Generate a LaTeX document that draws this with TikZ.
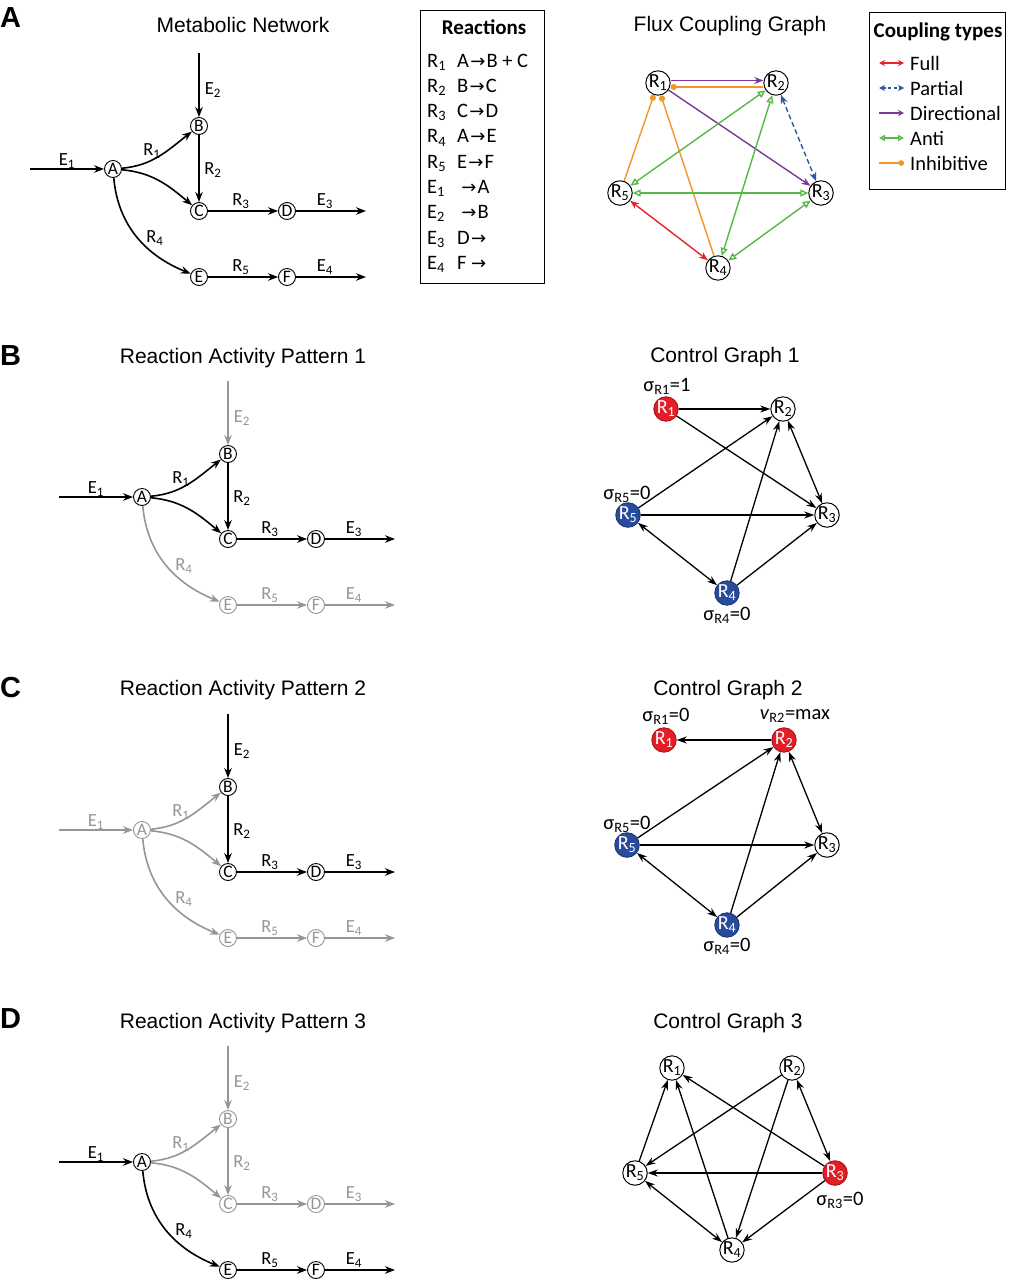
\documentclass[tikz,border=0pt]{standalone}
\usepackage{fontspec}
\setmainfont{Carlito}
\newfontfamily\arialf{Liberation Sans}
\newfontfamily\symf{DejaVu Sans}
\usetikzlibrary{arrows.meta}
\definecolor{grayln}{RGB}{150,150,150}
\definecolor{nred}{RGB}{228,30,38}
\definecolor{nblue}{RGB}{40,75,155}
\definecolor{cfull}{RGB}{230,35,45}
\definecolor{cpart}{RGB}{45,85,170}
\definecolor{cdir}{RGB}{125,55,150}
\definecolor{canti}{RGB}{85,185,70}
\definecolor{cinh}{RGB}{242,150,40}
\newcommand\metfnt{\fontsize{17.5}{17.5}\selectfont}
\newcommand\labfnt{\fontsize{18.5}{18.5}\selectfont}
\newcommand\rfnt{\fontsize{20}{20}\selectfont}
\newcommand\titfnt{\arialf\fontsize{21}{21}\selectfont}
\newcommand\letfnt{\arialf\bfseries\fontsize{29}{29}\selectfont}
\newcommand\txtfnt{\fontsize{20.5}{20.5}\selectfont}
\newcommand\hdfnt{\bfseries\fontsize{21}{21}\selectfont}
\newcommand\rarr{\hspace{1.2pt}{\symf\fontsize{18}{18}\selectfont →}\hspace{1.2pt}}
\tikzset{
  met/.style={circle, draw, fill=white, line width=0.9pt, minimum size=17pt, inner sep=0pt, font=\metfnt},
  lab/.style={inner sep=0pt, font=\labfnt},
  flow/.style={line width=1.6pt, -{Stealth[length=10pt,width=7.5pt]}},
  blk/.style={draw=black, text=black},
  gry/.style={draw=grayln, text=grayln},
  sE1/.style={blk}, sA/.style={blk}, sE2/.style={blk}, sB/.style={blk},
  sR1/.style={blk}, sR2/.style={blk}, sCD/.style={blk}, sEF/.style={blk},
  rnode/.style={circle, draw, line width=1pt, fill=white, minimum size=24pt, inner sep=0pt, font=\rfnt},
  rred/.style={rnode, fill=nred, draw=nred!75!black, text=white},
  rblu/.style={rnode, fill=nblue, draw=nblue!75!black, text=white},
  cg/.style={line width=1.3pt, -{Stealth[length=10pt,width=7pt]}},
  cgb/.style={line width=1.3pt, {Stealth[length=10pt,width=7pt]}-{Stealth[length=10pt,width=7pt]}},
  fl/.style={line width=1.4pt},
  kfull/.style={fl, cfull, {Stealth[length=9pt,width=7pt]}-{Stealth[length=9pt,width=7pt]}},
  kpart/.style={fl, cpart, dash pattern=on 5pt off 3pt, {Stealth[length=9pt,width=7pt]}-{Stealth[length=9pt,width=7pt]}},
  kdir/.style={fl, cdir, -{Stealth[length=9pt,width=7pt]}},
  kanti/.style={fl, canti, {Triangle[open,length=8pt,width=7pt]}-{Triangle[open,length=8pt,width=7pt]}},
  kinh/.style={fl, cinh, -{Circle[length=6pt]}},
  siglab/.style={inner sep=0pt, font=\txtfnt},
  ttl/.style={inner sep=0pt, font=\titfnt, anchor=base},
  plet/.style={inner sep=0pt, font=\letfnt, anchor=base west},
  rxt/.style={inner sep=0pt, font=\txtfnt, anchor=base west},
  bx/.style={draw, line width=0.9pt, inner sep=0pt}
}
\newcommand\metanet[1]{%
  \node[met,sA] (#1A) at (113,-169) {A};
  \node[met,sB] (#1B) at (199,-126) {B};
  \node[met,sCD] (#1C) at (199,-211) {C};
  \node[met,sCD] (#1D) at (287,-211) {D};
  \node[met,sEF] (#1E) at (199,-277) {E};
  \node[met,sEF] (#1F) at (287,-277) {F};
  \coordinate (#1e1) at (30,-169);
  \coordinate (#1e2) at (199,-53);
  \coordinate (#1e3) at (366,-211);
  \coordinate (#1e4) at (366,-277);
  \draw[flow,sE1] (#1e1) -- (#1A);
  \draw[flow,sE2] (#1e2) -- (#1B);
  \draw[flow,sR1] (#1A) to[out=5,in=218] (#1B);
  \draw[flow,sR1] (#1A) to[out=-5,in=140] (#1C);
  \draw[flow,sR2] (#1B) -- (#1C);
  \draw[flow,sCD] (#1C) -- (#1D);
  \draw[flow,sCD] (#1D) -- (#1e3);
  \draw[flow,sEF] (#1A) to[out=-85,in=158] (#1E);
  \draw[flow,sEF] (#1E) -- (#1F);
  \draw[flow,sEF] (#1F) -- (#1e4);
  \node[lab,sE1,draw=none] (#1lE1) at (67,-161) {E\textsubscript{1}};
  \node[lab,sE2,draw=none] (#1lE2) at (213,-90) {E\textsubscript{2}};
  \node[lab,sR1,draw=none] (#1lR1) at (152,-151) {R\textsubscript{1}};
  \node[lab,sR2,draw=none] (#1lR2) at (213,-170) {R\textsubscript{2}};
  \node[lab,sCD,draw=none] (#1lR3) at (241,-201) {R\textsubscript{3}};
  \node[lab,sCD,draw=none] (#1lE3) at (325,-201) {E\textsubscript{3}};
  \node[lab,sEF,draw=none] (#1lR4) at (155,-238) {R\textsubscript{4}};
  \node[lab,sEF,draw=none] (#1lR5) at (241,-267) {R\textsubscript{5}};
  \node[lab,sEF,draw=none] (#1lE4) at (325,-267) {E\textsubscript{4}};
}
\begin{document}
\begin{tikzpicture}[x=1pt,y=1pt]
\useasboundingbox[fill=white] (0,0) rectangle (1014,-1280);

% ---------------- Panel A ----------------
\node[plet] (pA) at (0,-27) {A};
\node[ttl] (tA1) at (243,-32) {Metabolic Network};
\node[ttl] (tA2) at (730,-31) {Flux Coupling Graph};
\metanet{a}

% Reactions box
\node[bx, minimum width=124pt, minimum height=273pt] (rxbox) at (482.5,-146.5) {};
\node[inner sep=0pt, font=\hdfnt, anchor=base] (rxt) at (484,-34) {Reactions};
\node[rxt] (rx1l) at (427,-67) {R\textsubscript{1}};
\node[rxt] (rx1r) at (457,-67) {A\rarr B + C};
\node[rxt] (rx2l) at (427,-92.3) {R\textsubscript{2}};
\node[rxt] (rx2r) at (457,-92.3) {B\rarr C};
\node[rxt] (rx3l) at (427,-117.6) {R\textsubscript{3}};
\node[rxt] (rx3r) at (457,-117.6) {C\rarr D};
\node[rxt] (rx4l) at (427,-142.9) {R\textsubscript{4}};
\node[rxt] (rx4r) at (457,-142.9) {A\rarr E};
\node[rxt] (rx5l) at (427,-168.2) {R\textsubscript{5}};
\node[rxt] (rx5r) at (457,-168.2) {E\rarr F};
\node[rxt] (rx6l) at (427,-193.5) {E\textsubscript{1}};
\node[rxt] (rx6r) at (460,-193.5) {\rarr A};
\node[rxt] (rx7l) at (427,-218.8) {E\textsubscript{2}};
\node[rxt] (rx7r) at (460,-218.8) {\rarr B};
\node[rxt] (rx8l) at (427,-244.1) {E\textsubscript{3}};
\node[rxt] (rx8r) at (457,-244.1) {D\rarr};
\node[rxt] (rx9l) at (427,-269.4) {E\textsubscript{4}};
\node[rxt] (rx9r) at (457,-269.4) {F\,\rarr};

% Flux coupling graph
\node[rnode] (f1) at (658,-83) {R\textsubscript{1}};
\node[rnode] (f2) at (776,-83) {R\textsubscript{2}};
\node[rnode] (f3) at (821,-193) {R\textsubscript{3}};
\node[rnode] (f5) at (620,-193) {R\textsubscript{5}};
\node[rnode] (f4) at (718,-268) {R\textsubscript{4}};
\draw[kinh] (f5) -- (f1);
\draw[kinh] (f4) -- ([xshift=3pt]f1.south);
\draw[kdir] ([yshift=2.5pt]f1.east) -- ([yshift=2.5pt]f2.west);
\draw[kinh] ([yshift=-4pt]f2.west) -- ([yshift=-4pt]f1.east);
\draw[kdir] (f1) -- (f3);
\draw[kpart] (f2) -- (f3);
\draw[kanti] (f2) -- (f5);
\draw[kanti] (f2) -- (f4);
\draw[kanti] (f5) -- (f3);
\draw[kanti] (f4) -- (f3);
\draw[kfull] (f5) -- (f4);

% Legend
\node[bx, minimum width=136pt, minimum height=177pt] (lgbox) at (937.5,-100.5) {};
\node[inner sep=0pt, font=\hdfnt, anchor=base] (lgt) at (938,-37) {Coupling types};
\coordinate (lg1a) at (879,-63); \coordinate (lg1b) at (904,-63);
\coordinate (lg2a) at (879,-88); \coordinate (lg2b) at (904,-88);
\coordinate (lg3a) at (879,-113); \coordinate (lg3b) at (904,-113);
\coordinate (lg4a) at (879,-138); \coordinate (lg4b) at (904,-138);
\coordinate (lg5a) at (879,-163); \coordinate (lg5b) at (904,-163);
\draw[fl, cfull, {Stealth[length=6pt,width=6pt]}-{Stealth[length=6pt,width=6pt]}] (lg1a) -- (lg1b);
\draw[fl, cpart, dash pattern=on 3pt off 2.5pt, {Stealth[length=6pt,width=6pt]}-{Stealth[length=6pt,width=6pt]}] (lg2a) -- (lg2b);
\draw[fl, cdir, -{Stealth[length=6pt,width=6pt]}] (lg3a) -- (lg3b);
\draw[fl, canti, {Triangle[open,length=6pt,width=6pt]}-{Triangle[open,length=6pt,width=6pt]}] (lg4a) -- (lg4b);
\draw[fl, cinh, -{Circle[length=5.5pt]}] (lg5a) -- (lg5b);
\node[rxt] (lgl1) at (910,-70) {Full};
\node[rxt] (lgl2) at (910,-95) {Partial};
\node[rxt] (lgl3) at (910,-120) {Directional};
\node[rxt] (lgl4) at (910,-145) {Anti};
\node[rxt] (lgl5) at (910,-170) {Inhibitive};

% ---------------- Panel B ----------------
\node[plet] (pB) at (0,-365) {B};
\node[ttl] (tB1) at (243,-363) {Reaction Activity Pattern 1};
\node[ttl] (tB2) at (725,-362) {Control Graph 1};
\begin{scope}[shift={(29,-328)}, sE2/.style={gry}, sEF/.style={gry}]
\metanet{b}
\end{scope}
\node[rred] (g1r1) at (666,-409) {R\textsubscript{1}};
\node[rnode] (g1r2) at (783,-409) {R\textsubscript{2}};
\node[rnode] (g1r3) at (827,-515) {R\textsubscript{3}};
\node[rblu] (g1r5) at (628,-515) {R\textsubscript{5}};
\node[rblu] (g1r4) at (727,-593) {R\textsubscript{4}};
\draw[cg] (g1r1) -- (g1r2);
\draw[cg] (g1r1) -- (g1r3);
\draw[cg] (g1r5) -- (g1r2);
\draw[cg] (g1r5) -- (g1r3);
\draw[cgb] (g1r5) -- (g1r4);
\draw[cg] (g1r4) -- (g1r2);
\draw[cg] (g1r4) -- (g1r3);
\draw[cgb] (g1r2) -- (g1r3);
\node[siglab] (g1s1) at (667,-386) {σ\textsubscript{R1}=1};
\node[siglab] (g1s5) at (627,-494) {σ\textsubscript{R5}=0};
\node[siglab] (g1s4) at (727,-615) {σ\textsubscript{R4}=0};

% ---------------- Panel C ----------------
\node[plet] (pC) at (0,-697) {C};
\node[ttl] (tC1) at (243,-695) {Reaction Activity Pattern 2};
\node[ttl] (tC2) at (728,-695) {Control Graph 2};
\begin{scope}[shift={(29,-661)}, sE1/.style={gry}, sA/.style={gry}, sR1/.style={gry}, sEF/.style={gry}]
\metanet{c}
\end{scope}
\node[rred] (g2r1) at (664,-740) {R\textsubscript{1}};
\node[rred] (g2r2) at (784,-740) {R\textsubscript{2}};
\node[rnode] (g2r3) at (827,-845) {R\textsubscript{3}};
\node[rblu] (g2r5) at (627,-845) {R\textsubscript{5}};
\node[rblu] (g2r4) at (727,-925) {R\textsubscript{4}};
\draw[cg] (g2r2) -- (g2r1);
\draw[cg] (g2r5) -- (g2r2);
\draw[cg] (g2r4) -- (g2r2);
\draw[cgb] (g2r2) -- (g2r3);
\draw[cg] (g2r5) -- (g2r3);
\draw[cgb] (g2r5) -- (g2r4);
\draw[cg] (g2r4) -- (g2r3);
\node[siglab] (g2s1) at (666,-716) {σ\textsubscript{R1}=0};
\node[siglab] (g2s2) at (795,-716) {\textit{v}\textsubscript{R2}=max};
\node[siglab] (g2s5) at (627,-824) {σ\textsubscript{R5}=0};
\node[siglab] (g2s4) at (727,-946) {σ\textsubscript{R4}=0};

% ---------------- Panel D ----------------
\node[plet] (pD) at (0,-1028) {D};
\node[ttl] (tD1) at (243,-1028) {Reaction Activity Pattern 3};
\node[ttl] (tD2) at (728,-1028) {Control Graph 3};
\begin{scope}[shift={(29,-993)}, sE2/.style={gry}, sB/.style={gry}, sR1/.style={gry}, sR2/.style={gry}, sCD/.style={gry}]
\metanet{d}
\end{scope}
\node[rnode] (g3r1) at (672,-1068) {R\textsubscript{1}};
\node[rnode] (g3r2) at (792,-1068) {R\textsubscript{2}};
\node[rred] (g3r3) at (835,-1173) {R\textsubscript{3}};
\node[rnode] (g3r5) at (635,-1173) {R\textsubscript{5}};
\node[rnode] (g3r4) at (732,-1250) {R\textsubscript{4}};
\draw[cg] (g3r5) -- (g3r1);
\draw[cg] (g3r4) -- (g3r1);
\draw[cg] (g3r3) -- (g3r1);
\draw[cg] (g3r2) -- (g3r5);
\draw[cg] (g3r2) -- (g3r4);
\draw[cgb] (g3r2) -- (g3r3);
\draw[cg] (g3r3) -- (g3r5);
\draw[cg] (g3r3) -- (g3r4);
\draw[cgb] (g3r5) -- (g3r4);
\node[siglab] (g3s3) at (840,-1200) {σ\textsubscript{R3}=0};
\end{tikzpicture}
\end{document}
